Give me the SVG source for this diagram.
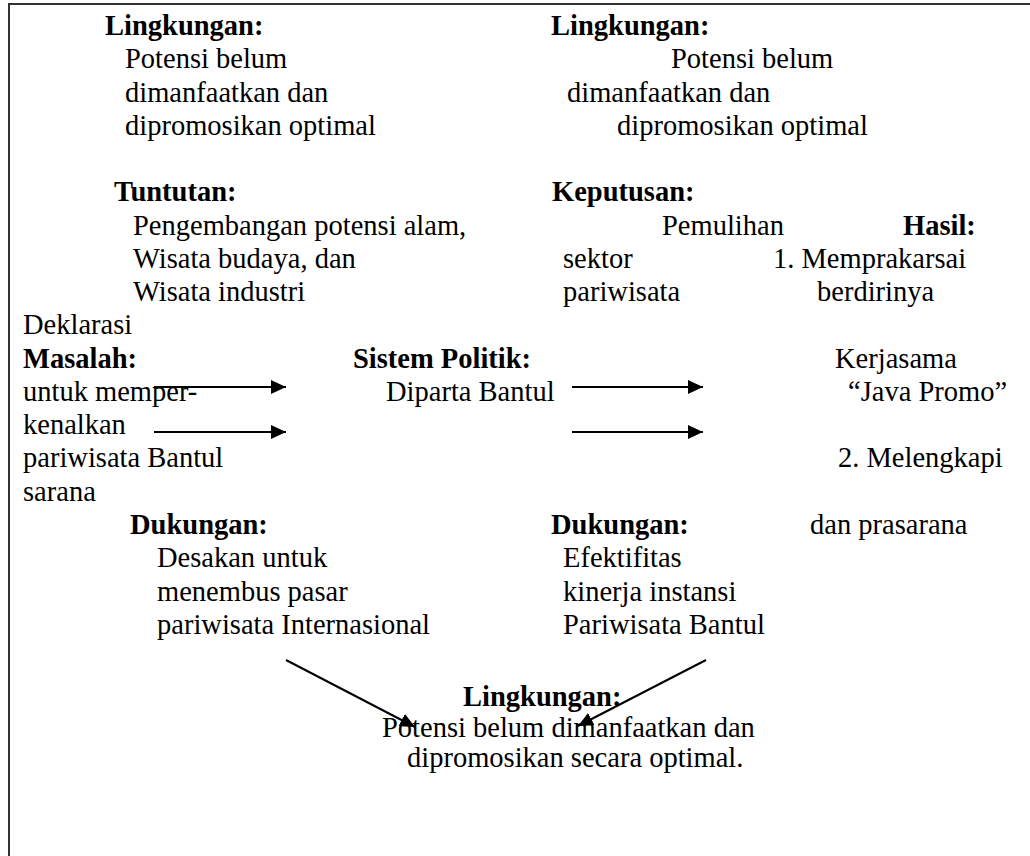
<svg xmlns="http://www.w3.org/2000/svg" width="1030" height="856" viewBox="0 0 1030 856">
<style>
text{font-family:"Liberation Serif","Times New Roman",serif;font-size:28.5px;fill:#000}
.b{font-weight:bold}
.ln{stroke:#000;stroke-width:2;fill:none}
.frame{stroke:#333;stroke-width:2;fill:none}
</style>
<defs>
<marker id="ah" markerUnits="userSpaceOnUse" markerWidth="16" markerHeight="14" refX="15" refY="7" orient="auto">
<path d="M0,0 L15,7 L0,14 z" fill="#000"/>
</marker>
</defs>
<rect width="1030" height="856" fill="#fff"/>
<path class="frame" d="M9,856 V4 H1030"/>
<g id="env-top-left">
<text class="b" x="105" y="35">Lingkungan:</text>
<text x="125" y="68">Potensi belum</text>
<text x="125" y="102">dimanfaatkan dan</text>
<text x="125" y="135">dipromosikan optimal</text>
</g>
<g id="env-top-right">
<text class="b" x="551" y="35">Lingkungan:</text>
<text x="671" y="68">Potensi belum</text>
<text x="567" y="102">dimanfaatkan dan</text>
<text x="617" y="135">dipromosikan optimal</text>
</g>
<g id="demand">
<text class="b" x="114" y="201">Tuntutan:</text>
<text x="133" y="235">Pengembangan potensi alam,</text>
<text x="133" y="268">Wisata budaya, dan</text>
<text x="133" y="301">Wisata industri</text>
</g>
<g id="decision">
<text class="b" x="552" y="201">Keputusan:</text>
<text x="662" y="235">Pemulihan</text>
<text x="563" y="268">sektor</text>
<text x="563" y="301">pariwisata</text>
</g>
<g id="result">
<text class="b" x="903" y="235">Hasil:</text>
<text x="773" y="268">1. Memprakarsai</text>
<text x="817" y="301">berdirinya</text>
<text x="835" y="368">Kerjasama</text>
<text x="848" y="401">“Java Promo”</text>
<text x="838" y="467">2. Melengkapi</text>
<text x="810" y="534">dan prasarana</text>
</g>
<g id="problem">
<text x="23" y="334">Deklarasi</text>
<text class="b" x="23" y="368">Masalah:</text>
<text x="23" y="401">untuk memper-</text>
<text x="23" y="434">kenalkan</text>
<text x="23" y="467">pariwisata Bantul</text>
<text x="23" y="501">sarana</text>
</g>
<g id="political-system">
<text class="b" x="353" y="368">Sistem Politik:</text>
<text x="386" y="401">Diparta Bantul</text>
</g>
<g id="support-left">
<text class="b" x="130" y="534">Dukungan:</text>
<text x="157" y="567">Desakan untuk</text>
<text x="157" y="601">menembus pasar</text>
<text x="157" y="634">pariwisata Internasional</text>
</g>
<g id="support-right">
<text class="b" x="551" y="534">Dukungan:</text>
<text x="563" y="567">Efektifitas</text>
<text x="563" y="601">kinerja instansi</text>
<text x="563" y="634">Pariwisata Bantul</text>
</g>
<g id="env-bottom">
<text class="b" x="463" y="706">Lingkungan:</text>
<text x="382" y="737">Potensi belum dimanfaatkan dan</text>
<text x="407" y="767">dipromosikan secara optimal.</text>
</g>
<g id="connectors">
<line class="ln" x1="154" y1="387" x2="286" y2="387" marker-end="url(#ah)"/>
<line class="ln" x1="154" y1="432" x2="286" y2="432" marker-end="url(#ah)"/>
<line class="ln" x1="572" y1="387" x2="703" y2="387" marker-end="url(#ah)"/>
<line class="ln" x1="572" y1="432" x2="703" y2="432" marker-end="url(#ah)"/>
<line class="ln" x1="286" y1="660" x2="415" y2="727" marker-end="url(#ah)"/>
<line class="ln" x1="706" y1="660" x2="578" y2="726" marker-end="url(#ah)"/>
</g>
</svg>
